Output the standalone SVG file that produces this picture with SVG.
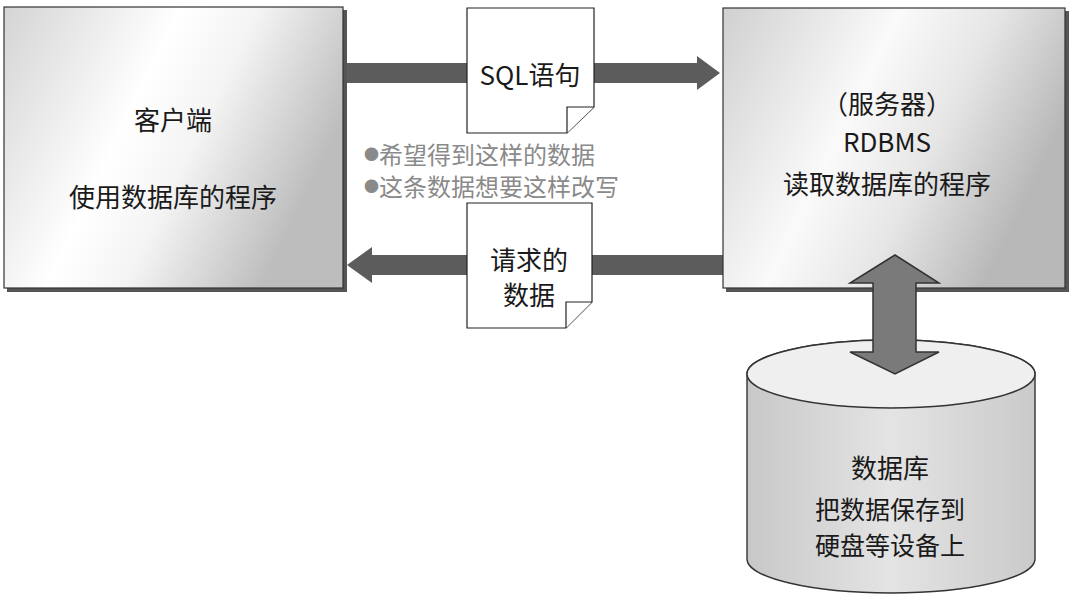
<svg xmlns="http://www.w3.org/2000/svg" width="1078" height="597" viewBox="0 0 1078 597">
<style>
text{font-family:"Noto Sans CJK SC","Liberation Sans",sans-serif;fill:#1a1a1a;text-anchor:middle;dominant-baseline:central}
.big{font-size:26px}
.mid{font-size:25px}
.note{font-size:24px;fill:#8a8a8a;text-anchor:start}
.dot{font-size:15px}
.box{stroke:#333;stroke-width:1.2}
.shadow{fill:#555}
.doc{fill:#fff;stroke:#222;stroke-width:1.2}
.arrow{fill:#5c5c5c}
</style>
<defs>
<linearGradient id="gClient" x1="0" y1="0" x2="1" y2="0.4">
<stop offset="0" stop-color="#d4d4d4"/>
<stop offset="0.45" stop-color="#ffffff"/>
<stop offset="0.65" stop-color="#f4f4f4"/>
<stop offset="1" stop-color="#bdbdbd"/>
</linearGradient>
<linearGradient id="gServer" x1="0" y1="0" x2="1" y2="0.4">
<stop offset="0" stop-color="#d0d0d0"/>
<stop offset="0.45" stop-color="#fafafa"/>
<stop offset="0.7" stop-color="#e6e6e6"/>
<stop offset="1" stop-color="#b8b8b8"/>
</linearGradient>
<linearGradient id="gCyl" x1="0" y1="0" x2="1" y2="0">
<stop offset="0" stop-color="#c8c8c8"/>
<stop offset="0.5" stop-color="#e4e4e4"/>
<stop offset="1" stop-color="#cacaca"/>
</linearGradient>
</defs>

<g id="connectors">
<g id="sql-arrow">
<rect class="arrow" x="345" y="63" width="354" height="20"/>
<polygon class="arrow" points="697,56 720,73 697,90"/>
</g>
<g id="data-arrow">
<rect class="arrow" x="370" y="255" width="355" height="20"/>
<polygon class="arrow" points="372,247 347,265 372,283"/>
</g>
</g>

<g id="client">
<rect class="shadow" x="7" y="10" width="340" height="282"/>
<rect class="box" x="4" y="7" width="339" height="281" fill="url(#gClient)"/>
<text class="big" x="173" y="118">客户端</text>
<text class="big" x="173" y="195">使用数据库的程序</text>
</g>

<g id="server">
<rect class="shadow" x="726" y="11" width="343" height="281"/>
<rect class="box" x="723" y="8" width="342" height="280" fill="url(#gServer)"/>
<text class="big" x="887" y="102">（服务器）</text>
<text class="big" x="887" y="140">RDBMS</text>
<text class="big" x="887" y="182">读取数据库的程序</text>
</g>

<g id="sql-doc">
<path class="doc" d="M467,8 H594 V107 L567,133 H467 Z"/>
<path class="doc" d="M594,107 L567,107 L567,133" fill="#fff"/>
<text class="big" x="530" y="73">SQL语句</text>
</g>

<g id="notes">
<text class="note" x="364" y="153"><tspan class="dot">●</tspan>希望得到这样的数据</text>
<text class="note" x="364" y="185"><tspan class="dot">●</tspan>这条数据想要这样改写</text>
</g>

<g id="data-doc">
<path class="doc" d="M467,203 H592 V302 L566,328 H467 Z"/>
<path class="doc" d="M592,302 L566,302 L566,328" fill="#fff"/>
<text class="big" x="529" y="258">请求的</text>
<text class="big" x="529" y="293">数据</text>
</g>

<g id="database">
<path d="M747,374 V559 A144,34 0 0 0 1035,559 V374 A144,34 0 0 0 747,374 Z" fill="url(#gCyl)" stroke="#333" stroke-width="1.4"/>
<ellipse cx="891" cy="374" rx="144" ry="34" fill="#efefef" stroke="#333" stroke-width="1.4"/>
<text class="big" x="890" y="466">数据库</text>
<text class="mid" x="890" y="508">把数据保存到</text>
<text class="mid" x="890" y="544">硬盘等设备上</text>
</g>

<g id="db-arrow">
<polygon points="895,255 939,283 916,283 916,352 939,352 895,374 850,352 873,352 873,283 850,283" fill="#7a7a7a" stroke="#333" stroke-width="1.5"/>
</g>
</svg>
